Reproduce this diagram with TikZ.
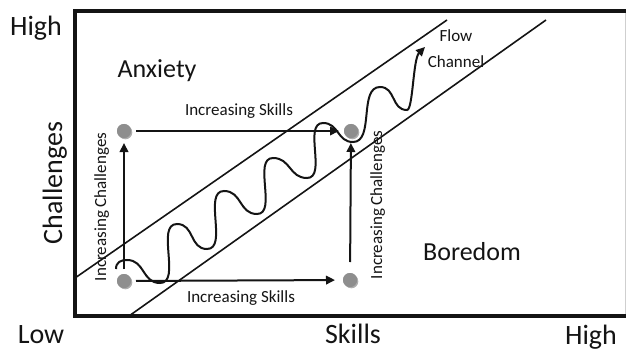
\documentclass[tikz,border=0pt]{standalone}
\usepackage{fontspec}
\setmainfont{Carlito}
\usetikzlibrary{arrows.meta, shadows}
\definecolor{ink}{HTML}{141414}
\definecolor{dot-grey}{HTML}{8E8E8E}
\definecolor{edge-grey}{HTML}{CFCFCF}

\begin{document}
\begin{tikzpicture}[
    x=1pt, y=-1pt,
    >={Triangle[length=9pt, width=8.5pt]},
    frame/.style={draw=ink, line width=3.2pt},
    channel/.style={draw=ink, line width=1.6pt},
    move/.style={->, draw=ink, line width=2pt},
    flowpath/.style={->, draw=ink, line width=2pt},
    % wave pieces: flat at every crest and trough, steep in between
    risestep/.style={out=0, in=180, looseness=0.9},
    fallstep/.style={out=0, in=180, looseness=1.15},
    state/.style={
        circle, minimum size=14pt, inner sep=0pt, outer sep=5pt,
        fill=dot-grey,
        drop shadow={shadow xshift=1.3pt, shadow yshift=-1.3pt, opacity=0.45, fill=black!70},
    },
    axislabel/.style={font=\fontsize{28}{32}\selectfont, text=ink, inner sep=0pt},
    zone/.style={font=\fontsize{26}{30}\selectfont, text=ink, inner sep=0pt},
    steplabel/.style={font=\fontsize{17}{20}\selectfont, text=ink, inner sep=0pt},
]
\useasboundingbox (0,0) rectangle (626,350);

% =====================================================================
% FRAME and axis labels
% =====================================================================

\draw[edge-grey, line width=0.8pt] (625,11) -- (625,316);
\draw[frame] (626,11) -| (75,316) -- (626,316);

\node[axislabel, anchor=base] (yhigh) at (36,36)   {High};
\node[axislabel, anchor=base] (ylow)  at (41,343)  {Low};
\node[axislabel, anchor=base] (xname) at (353,343) {Skills};
\node[axislabel, anchor=base] (xhigh) at (591,344) {High};
\node[axislabel, anchor=base, rotate=90] (yname) at (62,183) {Challenges};

\node[zone, anchor=base] (anxiety) at (157,78)  {Anxiety};
\node[zone, anchor=base] (boredom) at (472,260) {Boredom};

% =====================================================================
% FLOW CHANNEL: two parallel edges and the wavy path between them
% =====================================================================

\draw[channel] (75,278) -- (447,20);
\draw[channel] (129,316) -- (546,20);

\node[steplabel, align=center, font=\fontsize{17}{26}\selectfont] (chan) at (456,49) {Flow\\Channel};

% =====================================================================
% FOUR STATES and the moves between them
% =====================================================================

\node[state] (start)     at (124,281) {};
\node[state] (skilled)   at (350,280) {};
\node[state] (stretched) at (124,131) {};
\node[state] (mastery)   at (351,131) {};

\draw[move] (stretched) -- (mastery);
\draw[move] (start) -- (stretched);
\draw[move, shorten >=3pt] (start) -- (skilled);
\draw[move, shorten <=6pt] (skilled) -- (mastery);

\node[steplabel, anchor=base] (skilltop) at (239,116) {Increasing Skills};
\node[steplabel, anchor=base] (skillbot) at (241,302) {Increasing Skills};
\node[steplabel, anchor=base, rotate=90] (challeft)  at (106,207) {Increasing Challenges};
\node[steplabel, anchor=base, rotate=90] (chalright) at (382,205) {Increasing Challenges};

% crest / trough pairs climbing the channel, last piece bends into the arrow
\draw[flowpath] (116,269)
    .. controls +(0,-7) and +(-6,0) .. (127,260)
    to[fallstep] (160,283) to[risestep] (177,224)
    to[fallstep] (207,249) to[risestep] (224,191)
    to[fallstep] (257,214) to[risestep] (273,158)
    to[fallstep] (307,178) to[risestep] (323,123)
    to[fallstep] (353,142) to[risestep] (380,87)
    to[fallstep] (407,110)
    .. controls +(6,0) and +(-12,12) .. (425,47);

% dots again on top of the wave
\foreach \n in {start, skilled, stretched, mastery}
    \fill[dot-grey] (\n) circle (7pt);

\end{tikzpicture}
\end{document}
